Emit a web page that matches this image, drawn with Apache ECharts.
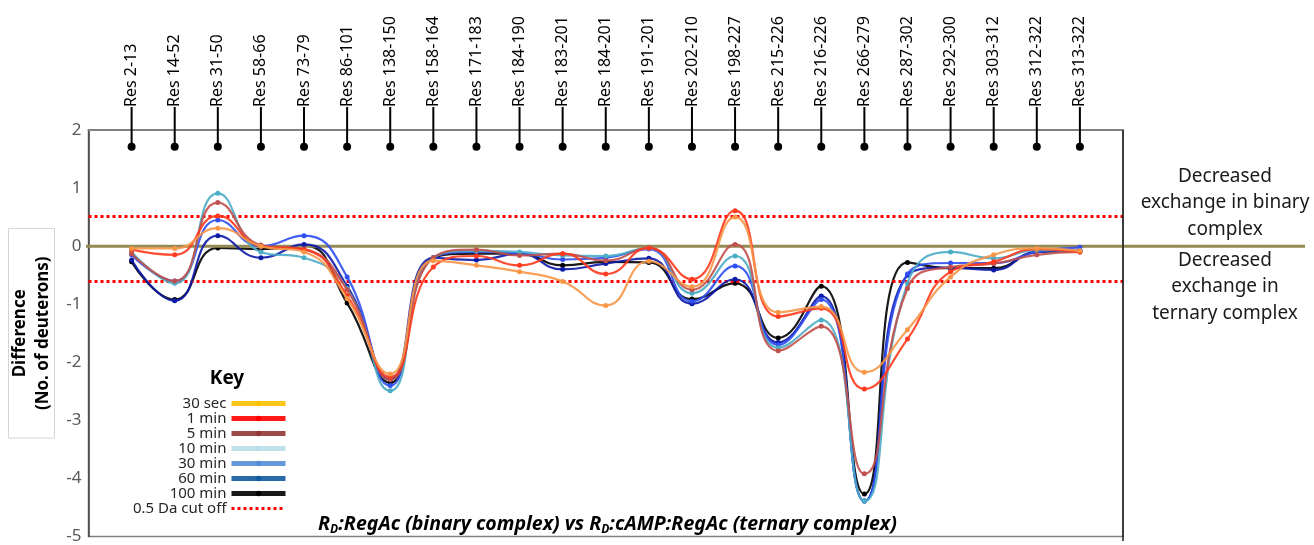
<!DOCTYPE html>
<html>
<head>
<meta charset="utf-8">
<script src="https://cdn.jsdelivr.net/npm/echarts@6/dist/echarts.min.js"></script>
<style>
  html, body { margin: 0; padding: 0; background: #fff; }
  #chart { width: 1314px; height: 545px; }
</style>
</head>
<body>
<div id="chart"></div>
<script>
// peptide fragments along the top
const categories = [
  'Res 2-13', 'Res 14-52', 'Res 31-50', 'Res 58-66', 'Res 73-79', 'Res 86-101',
  'Res 138-150', 'Res 158-164', 'Res 171-183', 'Res 184-190', 'Res 183-201',
  'Res 184-201', 'Res 191-201', 'Res 202-210', 'Res 198-227', 'Res 215-226',
  'Res 216-226', 'Res 266-279', 'Res 287-302', 'Res 292-300', 'Res 303-312',
  'Res 312-322', 'Res 313-322'
];

// difference in deuterons per time point
const sec30 = [-0.04, -0.04, 0.31, 0.0, -0.1, -0.9, -2.2, -0.25, -0.33, -0.44, -0.61, -1.02, -0.26, -0.7, 0.5, -1.14, -1.04, -2.17, -1.44, -0.53, -0.15, -0.04, -0.08];
const min1 = [-0.06, -0.15, 0.52, 0.0, -0.06, -0.85, -2.25, -0.36, -0.17, -0.33, -0.13, -0.48, -0.03, -0.57, 0.61, -1.21, -1.07, -2.46, -1.6, -0.44, -0.27, -0.05, -0.1];
const min5 = [-0.13, -0.6, 0.75, 0.02, -0.05, -0.75, -2.3, -0.2, -0.06, -0.16, -0.13, -0.25, -0.03, -0.75, 0.03, -1.8, -1.38, -3.92, -0.73, -0.36, -0.3, -0.15, -0.1];
const min10 = [-0.1, -0.64, 0.91, -0.1, -0.2, -0.73, -2.49, -0.2, -0.08, -0.1, -0.16, -0.17, -0.03, -0.81, -0.17, -1.75, -1.27, -4.39, -0.64, -0.1, -0.21, -0.07, -0.08];
const min30 = [-0.15, -0.6, 0.45, 0.0, 0.18, -0.53, -2.4, -0.2, -0.1, -0.12, -0.23, -0.2, -0.05, -0.95, -0.34, -1.7, -0.92, -4.39, -0.48, -0.29, -0.29, -0.1, -0.02];
const min60 = [-0.24, -0.94, 0.18, -0.2, 0.03, -0.69, -2.29, -0.2, -0.24, -0.13, -0.4, -0.3, -0.21, -0.99, -0.57, -1.66, -0.86, -4.39, -0.5, -0.37, -0.41, -0.1, -0.08];
const min100 = [-0.27, -0.92, -0.03, -0.05, 0.01, -0.98, -2.35, -0.2, -0.13, -0.13, -0.33, -0.27, -0.28, -0.91, -0.64, -1.58, -0.69, -4.27, -0.28, -0.38, -0.38, -0.1, -0.08];

const seriesNames = ['30 sec', '1 min', '5 min', '10 min', '30 min', '60 min', '100 min'];
const seriesValues = [sec30, min1, min5, min10, min30, min60, min100];
const lineColors = ['#f79646', '#ff3a1e', '#c0504d', '#4bacc6', '#2f4ff2', '#0c1aa8', '#000000'];
const keyColors = ['#ffc000', '#ff0000', '#943634', '#b7dee8', '#558ed5', '#0f5ba0', '#000000'];

const cutoffName = '0.5 Da cut off';
const cutoffLevels = [0.52, -0.6];
const pinLevel = 1.71;

const chart = echarts.init(document.getElementById('chart'));

// draw later series first so the short time points sit on top
const lineSeries = seriesNames.map((name, i) => ({
  name: name,
  type: 'line',
  smooth: true,
  symbol: 'circle',
  symbolSize: 5,
  z: 10 - i,
  data: seriesValues[i].map((v, k) => [k, v]),
  itemStyle: { color: lineColors[i] },
  lineStyle: { color: lineColors[i], width: 2.2, opacity: 0.9 }
})).reverse();

const legendData = seriesNames.map((name, i) => ({
  name: name,
  itemStyle: { color: keyColors[i] },
  lineStyle: { color: keyColors[i], width: 5 }
}));
legendData.push({
  name: cutoffName,
  itemStyle: { color: 'rgba(0,0,0,0)' },
  lineStyle: { color: '#ff0000', width: 3, type: [3, 3] }
});

const option = {
  animation: false,
  textStyle: { fontFamily: 'Noto Sans' },
  title: {
    text: '{i|R}{s|D}{i|:RegAc (binary complex) vs }{i|R}{s|D}{i|:cAMP:RegAc (ternary complex)}',
    left: 313,
    top: 505,
    textStyle: {
      rich: {
        i: { fontFamily: 'Noto Sans', fontSize: 19.5, fontWeight: 'bold', fontStyle: 'italic', color: '#000', lineHeight: 28 },
        s: { fontFamily: 'Noto Sans', fontSize: 12, fontWeight: 'bold', fontStyle: 'italic', color: '#000', lineHeight: 28, padding: [11, 0, 0, 0] }
      }
    }
  },
  legend: {
    orient: 'vertical',
    right: 1021,
    top: 391,
    align: 'right',
    itemWidth: 54,
    itemHeight: 7,
    itemGap: 0,
    selectedMode: false,
    textStyle: { fontSize: 15, lineHeight: 14.6, color: '#262626' },
    data: legendData
  },
  grid: {
    left: 86,
    right: 191,
    top: 130,
    bottom: 4,
    show: true,
    borderColor: '#808080',
    borderWidth: 1.5
  },
  xAxis: {
    type: 'value',
    position: 'top',
    min: -1,
    max: 23,
    interval: 1,
    axisLine: { show: true, onZero: false, lineStyle: { color: '#808080', width: 2 } },
    axisTick: { show: false },
    splitLine: { show: false },
    axisLabel: {
      rotate: -90,
      margin: 23,
      fontSize: 16,
      color: '#000',
      showMinLabel: true,
      showMaxLabel: true,
      formatter: (v) => categories[v] || ''
    }
  },
  yAxis: {
    type: 'value',
    min: -5,
    max: 2,
    interval: 1,
    name: 'Difference\n(No. of deuterons)',
    nameLocation: 'middle',
    nameRotate: 90,
    nameGap: 34,
    nameTextStyle: {
      fontSize: 17,
      fontWeight: 'bold',
      color: '#000',
      lineHeight: 23,
      borderColor: '#d4d4d4',
      borderWidth: 1,
      padding: [0, 28, 0, 28]
    },
    axisLine: { show: true, onZero: false, lineStyle: { color: '#404040', width: 1.5 } },
    axisTick: { show: false },
    splitLine: { show: false },
    axisLabel: { fontSize: 17, color: '#595959', margin: 7 }
  },
  series: [
    ...lineSeries,
    {
      name: cutoffName,
      type: 'line',
      data: [],
      symbol: 'none',
      lineStyle: { color: '#ff0000', width: 3, type: [3, 3] },
      markLine: {
        silent: true,
        symbol: 'none',
        label: { show: false },
        lineStyle: { color: '#ff0000', width: 3, type: [3, 3] },
        data: cutoffLevels.map((v) => ({ yAxis: v }))
      }
    },
    {
      // pins from each fragment label down into the plot
      name: 'pins',
      type: 'custom',
      clip: false,
      silent: true,
      z: 20,
      data: categories.map((c, i) => [i, pinLevel]),
      renderItem: (params, api) => {
        const p = api.coord([api.value(0), api.value(1)]);
        const top = api.coord([api.value(0), 2])[1] - 23;
        return {
          type: 'group',
          children: [
            { type: 'line', shape: { x1: p[0], y1: top, x2: p[0], y2: p[1] }, style: { stroke: '#000', lineWidth: 2 } },
            { type: 'circle', shape: { cx: p[0], cy: p[1], r: 4 }, style: { fill: '#000' } }
          ]
        };
      }
    }
  ]
};

chart.setOption(option);

// zero line runs past the frame into the annotation column
const zeroY = chart.convertToPixel({ yAxisIndex: 0 }, 0);
chart.setOption({
  graphic: [
    {
      type: 'line',
      z: 5,
      shape: { x1: 86, y1: zeroY, x2: 1305, y2: zeroY },
      style: { stroke: '#948a54', lineWidth: 3 }
    },
    {
      type: 'line',
      z: 5,
      shape: { x1: 1123, y1: 130, x2: 1123, y2: 541 },
      style: { stroke: '#1a1a1a', lineWidth: 1.5 }
    },
    {
      type: 'text',
      x: 227,
      y: 379,
      style: { text: 'Key', font: 'bold 19px "Noto Sans"', fill: '#000', align: 'center', verticalAlign: 'middle' }
    },
    {
      type: 'text',
      x: 1225,
      y: 203,
      style: {
        text: 'Decreased\nexchange in binary\ncomplex',
        font: '19px "Noto Sans"', fill: '#1a1a1a', align: 'center', verticalAlign: 'middle', lineHeight: 26.6
      }
    },
    {
      type: 'text',
      x: 1225,
      y: 287,
      style: {
        text: 'Decreased\nexchange in\nternary complex',
        font: '19px "Noto Sans"', fill: '#1a1a1a', align: 'center', verticalAlign: 'middle', lineHeight: 26.6
      }
    }
  ]
});

window.addEventListener('resize', () => chart.resize());
</script>
</body>
</html>
